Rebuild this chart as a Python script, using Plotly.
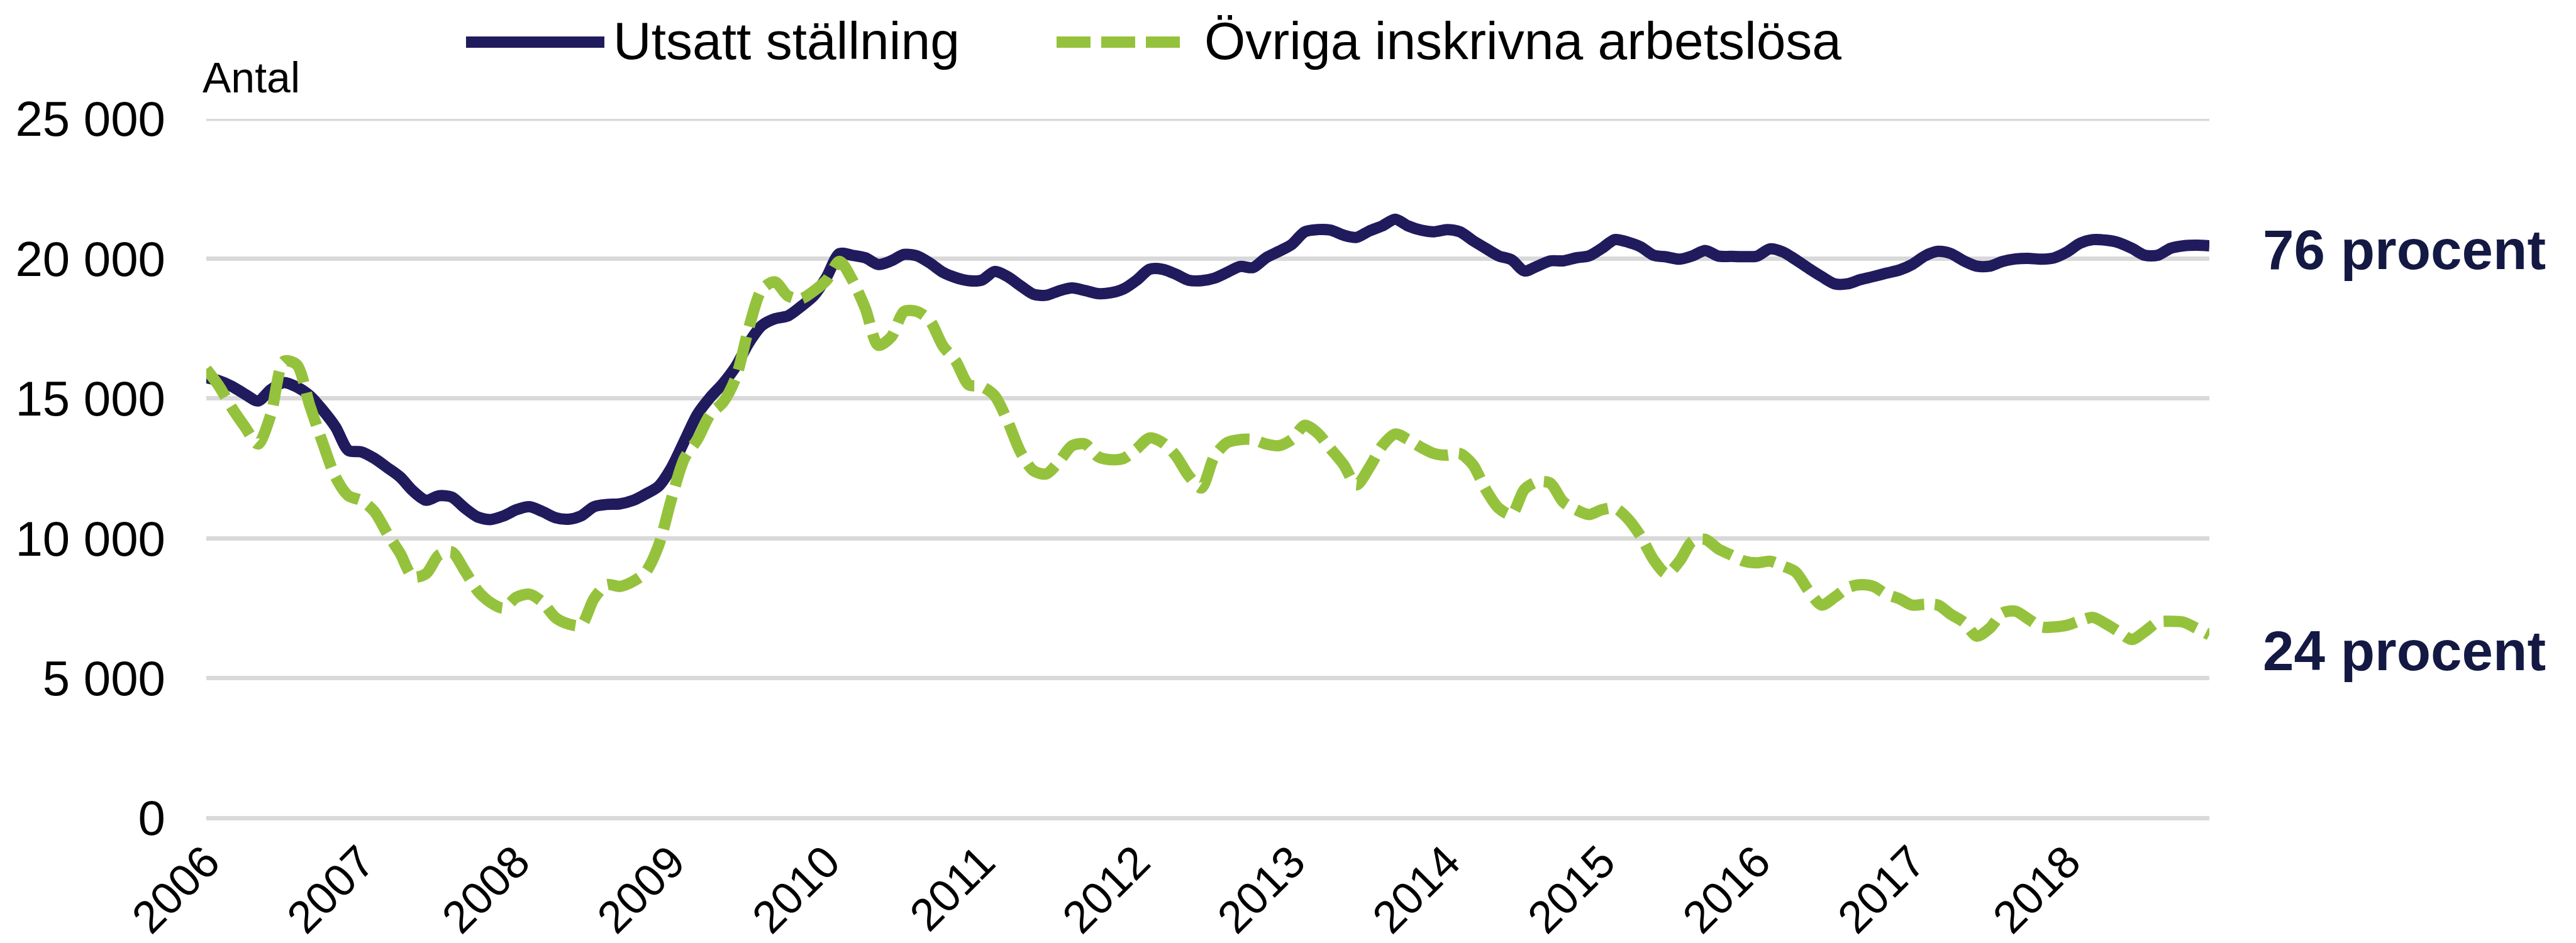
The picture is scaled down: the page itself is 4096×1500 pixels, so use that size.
import plotly.graph_objects as go

# ---------------- data ----------------
years = list(range(2006, 2019))
months = [f"{y}-{m:02d}" for y in years for m in range(1, 13)]  # 2006-01 .. 2018-12

utsatt = [
    15740, 15630, 15430, 15150, 14910, 15320, 15570, 15410, 15100, 14590, 13980, 13140,
    13090, 12860, 12530, 12190, 11690, 11360, 11520, 11470, 11080, 10760, 10670, 10800,
    11020, 11130, 10960, 10740, 10680, 10800, 11130, 11210, 11230, 11350, 11580, 11860,
    12530, 13480, 14430, 15040, 15540, 16160, 17000, 17610, 17850, 17950, 18280, 18670,
    19340, 20180, 20120, 20030, 19790, 19920, 20150, 20100, 19840, 19510, 19320, 19210,
    19230, 19540, 19360, 19030, 18730, 18690, 18850, 18950, 18860, 18750, 18780, 18920,
    19230, 19620, 19620, 19450, 19230, 19210, 19300, 19510, 19720, 19680, 20030, 20260,
    20510, 20960, 21040, 21020, 20840, 20760, 20990, 21170, 21410, 21170, 21020, 20960,
    21040, 20960, 20650, 20370, 20100, 19960, 19560, 19730, 19920, 19920, 20030, 20100,
    20370, 20680, 20590, 20420, 20120, 20060, 19980, 20100, 20290, 20090, 20080, 20070,
    20090, 20350, 20240, 19960, 19650, 19360, 19100, 19100, 19250, 19360, 19480, 19590,
    19790, 20100, 20260, 20180, 19920, 19730, 19730, 19900, 19990, 20010, 19980, 20030,
    20240, 20550, 20680, 20660, 20570, 20370, 20120, 20120, 20370, 20460, 20480, 20460,
]

ovriga = [
    16050, 15430, 14650, 13980, 13370, 14430, 16330, 16210, 14760, 13420, 12190, 11520,
    11350, 10960, 10180, 9460, 8620, 8730, 9400, 9510, 8840, 8120, 7700, 7500,
    7890, 8000, 7720, 7170, 6940, 6890, 7840, 8340, 8280, 8450, 8790, 9740,
    11410, 12860, 13530, 14430, 14870, 15770, 17550, 18900, 19170, 18670, 18560, 18840,
    19230, 19900, 19230, 18220, 16900, 17200, 18110, 18110, 17780, 16880, 16330, 15490,
    15430, 15100, 14200, 13090, 12420, 12300, 12750, 13310, 13370, 12920, 12810, 12860,
    13200, 13590, 13420, 12970, 12250, 11800, 12920, 13420, 13530, 13530, 13370, 13310,
    13530, 14040, 13760, 13200, 12640, 11910, 12530, 13310, 13730, 13530, 13250, 13030,
    12970, 13030, 12640, 11750, 11080, 10850, 11750, 12020, 11970, 11300, 11020, 10850,
    11020, 11080, 10700, 10070, 9230, 8730, 9180, 9900, 9960, 9620, 9400, 9180,
    9120, 9180, 9010, 8790, 8120, 7610, 7890, 8230, 8340, 8280, 8000, 7840,
    7610, 7640, 7610, 7280, 7000, 6500, 6780, 7330, 7390, 7110, 6830, 6830,
    6890, 7050, 7170, 6940, 6660, 6380, 6660, 7000, 7030, 7000, 6780, 6550,
]

series_names = ["Utsatt ställning", "Övriga inskrivna arbetslösa"]
share_labels = ["76 procent", "24 procent"]
y_ticks = [0, 5000, 10000, 15000, 20000, 25000]
y_tick_text = ["0", "5 000", "10 000", "15 000", "20 000", "25 000"]
x_tick_vals = [f"{y}-01" for y in years]
x_tick_text = [str(y) for y in years]
y_unit = "Antal"

# ---------------- style ----------------
NAVY = "#201B5D"
GREEN = "#95C23D"
LABEL_NAVY = "#141943"
GRID = "#D9D9D9"
FONT = "Liberation Sans, Arial, sans-serif"
LW = 18
DASH = "54px,17px"
GW = 7

W, H = 4096, 1500
L, R, T, B = 320, 3505, 181, 1293   # plot area in output pixels


def px(x):
    return (x - L) / (R - L)


def py(y):
    return (B - y) / (B - T)


fig = go.Figure()
fig.add_trace(go.Scatter(
    x=months, y=utsatt, name=series_names[0], mode="lines",
    line=dict(color=NAVY, width=LW, shape="spline", smoothing=0.8),
))
fig.add_trace(go.Scatter(
    x=months, y=ovriga, name=series_names[1], mode="lines",
    line=dict(color=GREEN, width=LW, shape="spline", smoothing=0.8, dash=DASH),
))

fig.update_layout(
    width=W, height=H,
    margin=dict(l=L, r=W - R, t=T, b=H - B, autoexpand=False),
    paper_bgcolor="white", plot_bgcolor="white",
    font=dict(family=FONT, size=74, color="black"),
    showlegend=False,
    xaxis=dict(
        type="category", range=[0, len(months) - 1],
        tickmode="array", tickvals=x_tick_vals, ticktext=x_tick_text,
        tickangle=-45, showgrid=False, zeroline=False, showline=False,
        ticks="", tickfont=dict(size=72, family=FONT, color="black"),
        ticklabelstandoff=12, automargin=False,
    ),
    yaxis=dict(
        range=[y_ticks[0], y_ticks[-1]], tickmode="array", tickvals=y_ticks, ticktext=y_tick_text,
        showgrid=True, gridcolor=GRID, gridwidth=GW,
        zeroline=True, zerolinecolor=GRID, zerolinewidth=GW,
        showline=False, ticks="", tickfont=dict(size=78, family=FONT, color="black"),
        ticklabelstandoff=64, automargin=False,
    ),
)

annotations = []
# unit label
annotations.append(dict(
    text=y_unit, xref="paper", yref="paper", x=px(312), y=py(115),
    xanchor="left", yanchor="middle", showarrow=False,
    font=dict(size=68, family=FONT, color="black"),
))
# right-side share labels
annotations.append(dict(
    text=f"<b>{share_labels[0]}</b>", xref="paper", yref="paper", x=px(3588), y=py(389),
    xanchor="left", yanchor="middle", showarrow=False,
    font=dict(size=89, family=FONT, color=LABEL_NAVY),
))
annotations.append(dict(
    text=f"<b>{share_labels[1]}</b>", xref="paper", yref="paper", x=px(3588), y=py(1027),
    xanchor="left", yanchor="middle", showarrow=False,
    font=dict(size=89, family=FONT, color=LABEL_NAVY),
))
# manual legend
LEG_Y = 57
annotations.append(dict(
    text=series_names[0], xref="paper", yref="paper", x=px(965), y=py(LEG_Y),
    xanchor="left", yanchor="middle", showarrow=False,
    font=dict(size=84, family=FONT, color="black"),
))
annotations.append(dict(
    text=series_names[1], xref="paper", yref="paper", x=px(1905), y=py(LEG_Y),
    xanchor="left", yanchor="middle", showarrow=False,
    font=dict(size=84, family=FONT, color="black"),
))

shapes = [
    # top gridline (at the upper edge of the value range)
    dict(type="line", xref="paper", yref="y", x0=0, x1=1,
         y0=y_ticks[-1], y1=y_ticks[-1], layer="below",
         line=dict(color=GRID, width=GW)),
    dict(type="line", xref="paper", yref="paper", x0=px(733), x1=px(953),
         y0=py(LEG_Y + 2), y1=py(LEG_Y + 2), line=dict(color=NAVY, width=LW)),
    dict(type="line", xref="paper", yref="paper", x0=px(1672), x1=px(1880),
         y0=py(LEG_Y + 2), y1=py(LEG_Y + 2), line=dict(color=GREEN, width=LW, dash=DASH)),
]

fig.update_layout(annotations=annotations, shapes=shapes)

fig.write_html("out.html")
